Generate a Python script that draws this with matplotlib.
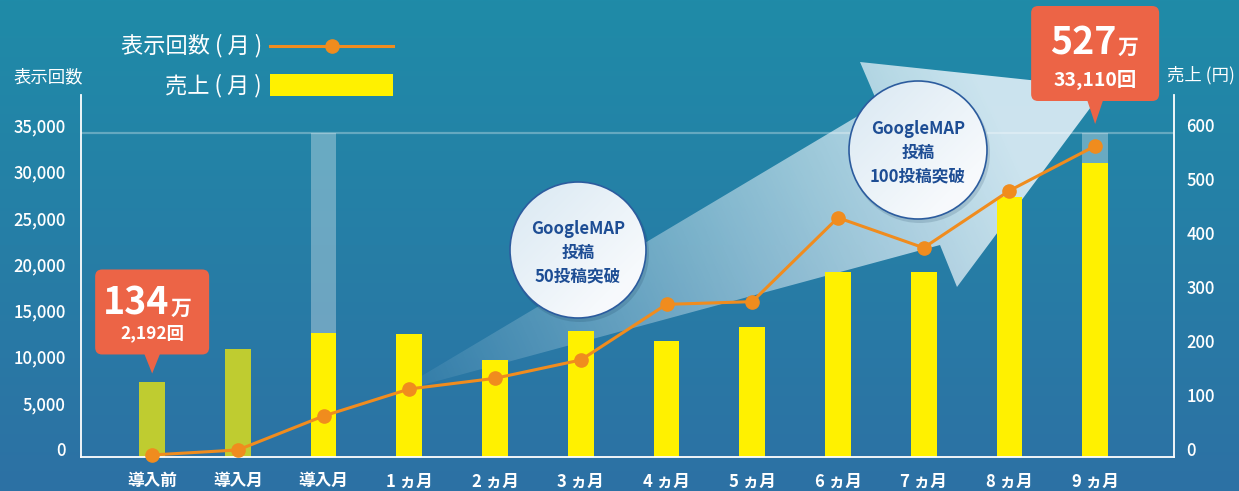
import numpy as np
import matplotlib
matplotlib.use('Agg')
import matplotlib.pyplot as plt
import matplotlib.patches as patches
from matplotlib.transforms import ScaledTranslation

plt.rcParams['font.family'] = ['Noto Sans CJK JP', 'DejaVu Sans']

# ---- data ----
categories = ['導入前', '導入月', '導入月', '1 ヵ月', '2 ヵ月', '3 ヵ月',
              '4 ヵ月', '5 ヵ月', '6 ヵ月', '7 ヵ月', '8 ヵ月', '9 ヵ月']
sales = [138, 200, 230, 228, 180, 233, 215, 241, 343, 343, 481, 544]        # 売上 (万円)
views = [220, 760, 4430, 7350, 8500, 10480, 16490, 16780, 25850, 22600, 28770, 33600]
pre_launch = 2                  # bars before launch are drawn green
highlighted = [2, 11]
view_ticks = [0, 5000, 10000, 15000, 20000, 25000, 30000, 35000]
sales_ticks = [0, 100, 200, 300, 400, 500, 600]
callout_idx = [0, 11]
callout_big = ['134', '527']
callout_small = ['2,192回', '33,110回']
milestones = ['GoogleMAP\n投稿\n50投稿突破', 'GoogleMAP\n投稿\n100投稿突破']

# colours
YELLOW = '#FFF100'
GREEN = '#BFCC30'
ORANGE = '#F08C1E'
RED = '#EC6446'
NAVY = '#1D4D94'

W, H = 1239, 491
fig = plt.figure(figsize=(W / 100, H / 100), dpi=100)


def gradient_fill(axis, patch, c0, c1, a0, a1, p0, p1, zorder):
    # fill a patch with a linear gradient running from p0 to p1 (pixel coords)
    patch.set_facecolor('none')
    patch.set_edgecolor('none')
    axis.add_patch(patch)
    if isinstance(patch, patches.Polygon):
        verts = patch.get_xy()
    else:
        verts = patch.get_patch_transform().transform(patch.get_path().vertices)
    x0, y0 = verts.min(axis=0) - 2
    x1, y1 = verts.max(axis=0) + 2
    xs = np.linspace(x0, x1, 300)
    ys = np.linspace(y0, y1, 200)
    gx, gy = np.meshgrid(xs, ys)
    d = np.array(p1, float) - np.array(p0, float)
    t = ((gx - p0[0]) * d[0] + (gy - p0[1]) * d[1]) / (d @ d)
    t = np.clip(t, 0, 1)[..., None]
    rgba = np.zeros((len(ys), len(xs), 4))
    rgba[..., :3] = np.array(c0) * (1 - t) + np.array(c1) * t
    rgba[..., 3] = (a0 * (1 - t) + a1 * t)[..., 0]
    im = axis.imshow(rgba, extent=(x0, x1, y1, y0), origin='upper',
                     aspect='auto', zorder=zorder, interpolation='bilinear')
    im.set_clip_path(patch)


# ---- background ----
bg = fig.add_axes([0, 0, 1, 1], zorder=0)
grad = np.linspace(0, 1, 256)[:, None, None]
top_c = np.array([31, 139, 168]) / 255
bot_c = np.array([45, 113, 164]) / 255
bg.imshow(top_c * (1 - grad) + bot_c * grad, extent=(0, W, H, 0), aspect='auto')

# big translucent arrow
arrow = patches.Polygon([(393, 393), (878, 104), (860, 62), (1105, 88), (957, 287), (940, 245)],
                        closed=True)
gradient_fill(bg, arrow, (0.85, 0.92, 0.95), (0.88, 0.94, 0.97), 0.03, 0.9,
              (393, 393), (1000, 120), 2)
bg.set_xlim(0, W)
bg.set_ylim(H, 0)
bg.axis('off')

# ---- main axes ----
rect = [81 / W, (H - 457) / H, (1174 - 81) / W, (457 - 95) / H]
ax2 = fig.add_axes(rect, zorder=1)            # 売上 (right)
ax = fig.add_axes(rect, zorder=2, sharex=ax2)  # 表示回数 (left)
for a in (ax, ax2):
    a.patch.set_visible(False)

x = np.arange(len(categories))
bar_colors = [GREEN if i < pre_launch else YELLOW for i in x]
ax2.bar(highlighted, [sales_ticks[-1]] * len(highlighted), width=0.3, color='white',
        alpha=0.32, lw=0, zorder=1)
ax2.bar(x, sales, width=0.3, color=bar_colors, lw=0, zorder=2)
ax2.axhline(sales_ticks[-1], color='white', alpha=0.3, lw=1.6, zorder=0.5)
ax2.set_ylim(0, sales_ticks[-1] * 362 / 324)
ax2.yaxis.tick_right()
ax2.set_yticks(sales_ticks)
ax2.tick_params(axis='y', length=0, pad=9, labelsize=12, labelcolor='white')
ax2.tick_params(axis='x', bottom=False, labelbottom=False)
for s in ax2.spines.values():
    s.set_visible(False)

ax.plot(x, views, color=ORANGE, lw=2.2, marker='o', ms=9.5, zorder=3, clip_on=False)
ax.set_ylim(0, view_ticks[-1] * 362 / 324)
ax.set_yticks(view_ticks)
ax.set_yticklabels([f'{v:,}' for v in view_ticks])
ax.set_xticks(x)
ax.set_xticklabels(categories)
ax.set_xlim(-0.83, 11.92)
ax.tick_params(axis='y', length=0, pad=11, labelsize=12, labelcolor='white')
ax.tick_params(axis='x', length=0, pad=11, labelsize=12, labelcolor='white')
for lab in ax.get_xticklabels():
    lab.set_fontweight('bold')
shift = ScaledTranslation(0, 0.075, fig.dpi_scale_trans)
for lab in ax.get_yticklabels() + ax2.get_yticklabels():
    lab.set_fontweight('medium')
    lab.set_transform(lab.get_transform() + shift)
ax.spines['top'].set_visible(False)
for side in ('left', 'right', 'bottom'):
    ax.spines[side].set_color('white')
    ax.spines[side].set_linewidth(1.3)

# ---- foreground decorations ----
fg = fig.add_axes([0, 0, 1, 1], zorder=3)
fg.patch.set_visible(False)


def to_px(axis, xv, yv):
    dx, dy = axis.transData.transform((xv, yv))
    return dx, H - dy


# callouts: (width, height, gap, big baseline, small baseline, big offset, small size)
geom = [(114, 85, 19, 45, 69, 17, 12.5), (128, 95, 23, 48, 80, 21, 14)]
for i, big, small, (w, h, gap, bb, sb, off, ssz) in zip(callout_idx, callout_big,
                                                         callout_small, geom):
    anchor = sales_ticks[-1] if i in highlighted else sales[i]
    tx, ty = to_px(ax2, i, anchor)
    ty -= 9
    bottom = ty - gap
    top = bottom - h
    fg.add_patch(patches.FancyBboxPatch((tx - w / 2, top), w, h,
                                        boxstyle='round,pad=0,rounding_size=7',
                                        fc=RED, ec='none', zorder=5))
    fg.add_patch(patches.Polygon([(tx - 8, bottom - 1), (tx + 8, bottom - 1), (tx, ty)],
                                 fc=RED, ec='none', zorder=5))
    fg.text(tx + off, top + bb, big, ha='right', va='baseline', size=27,
            weight='bold', color='white', zorder=6)
    fg.text(tx + off + 1, top + bb, '万', ha='left', va='baseline', size=15,
            weight='bold', color='white', zorder=6)
    fg.text(tx, top + sb, small, ha='center', va='baseline', size=ssz,
            weight='bold', color='white', zorder=6)

# milestone bubbles
bubbles = [((578, 250), 68), ((918, 150), 69)]
for ((cx, cy), r), txt in zip(bubbles, milestones):
    fg.add_patch(patches.Circle((cx + 2, cy + 3), r + 1, fc='#0a2c48', alpha=0.15,
                                ec='none', zorder=3))
    gradient_fill(fg, patches.Circle((cx, cy), r), (0.85, 0.91, 0.95), (0.97, 0.98, 0.99),
                  1, 1, (cx - r, cy - r), (cx + r * 0.6, cy + r * 0.6), 4)
    fg.add_patch(patches.Circle((cx, cy), r, fc='none', ec='#2C5C9E', lw=1.2, zorder=4.5))
    fg.text(cx, cy + 3, txt, ha='center', va='center', size=12, weight='bold',
            color=NAVY, linespacing=1.4, zorder=5)

# legend
fg.text(262, 46, '表示回数 ( 月 )', ha='right', va='center', size=16, color='white')
fg.plot([270, 393], [46, 46], color=ORANGE, lw=2.2)
fg.plot([332], [46], 'o', color=ORANGE, ms=9.5)
fg.text(262, 86, '売上 ( 月 )', ha='right', va='center', size=16, color='white')
fg.add_patch(patches.Rectangle((270, 74), 123, 22, fc=YELLOW, ec='none'))

# axis titles
fg.text(48, 77, '表示回数', ha='center', va='center', size=12.5, color='white')
fg.text(1201, 75, '売上 (円)', ha='center', va='center', size=12.5, color='white')

fg.set_xlim(0, W)
fg.set_ylim(H, 0)
fg.axis('off')

fig.savefig('out.png', dpi=100)
